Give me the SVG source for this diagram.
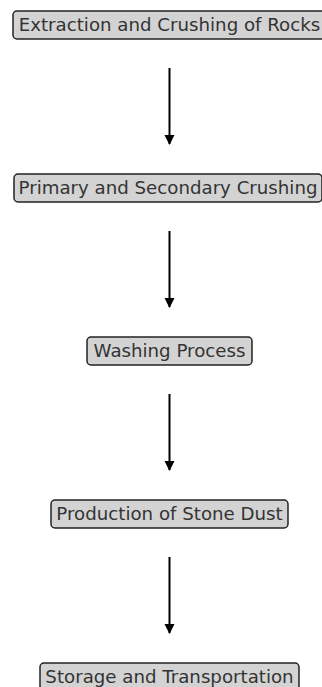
<svg xmlns="http://www.w3.org/2000/svg" width="322" height="687" viewBox="0 0 322 687">
<style>
.box{fill:#d3d3d3;stroke:#222;stroke-width:1.5}
.lbl{font-family:"DejaVu Sans",sans-serif;font-size:18.2px;fill:#333;text-anchor:middle}
.edge{stroke:#000;stroke-width:2;fill:none;marker-end:url(#ah)}
</style>
<defs>
<marker id="ah" viewBox="0 0 10 10" refX="9" refY="5" markerWidth="5" markerHeight="5.5" orient="auto" markerUnits="strokeWidth">
<path d="M0,0 L10,5 L0,10 z" fill="#000"/>
</marker>
</defs>
<rect width="322" height="687" fill="#fff"/>
<g id="edges">
<line class="edge" x1="169.5" y1="68" x2="169.5" y2="144"/>
<line class="edge" x1="169.5" y1="231" x2="169.5" y2="307"/>
<line class="edge" x1="169.5" y1="394" x2="169.5" y2="470"/>
<line class="edge" x1="169.5" y1="557" x2="169.5" y2="633"/>
</g>
<g id="n1"><rect class="box" x="13" y="11" width="313" height="28" rx="4"/><text class="lbl" x="169.5" y="30.8">Extraction and Crushing of Rocks</text></g>
<g id="n2"><rect class="box" x="14" y="174" width="308" height="28" rx="4"/><text class="lbl" x="168" y="193.8">Primary and Secondary Crushing</text></g>
<g id="n3"><rect class="box" x="87" y="337" width="165" height="28" rx="4"/><text class="lbl" x="169.5" y="356.8">Washing Process</text></g>
<g id="n4"><rect class="box" x="51" y="500" width="237" height="28" rx="4"/><text class="lbl" x="169.5" y="519.8">Production of Stone Dust</text></g>
<g id="n5"><rect class="box" x="40" y="663" width="259" height="28" rx="4"/><text class="lbl" x="169.5" y="682.8">Storage and Transportation</text></g>
</svg>
